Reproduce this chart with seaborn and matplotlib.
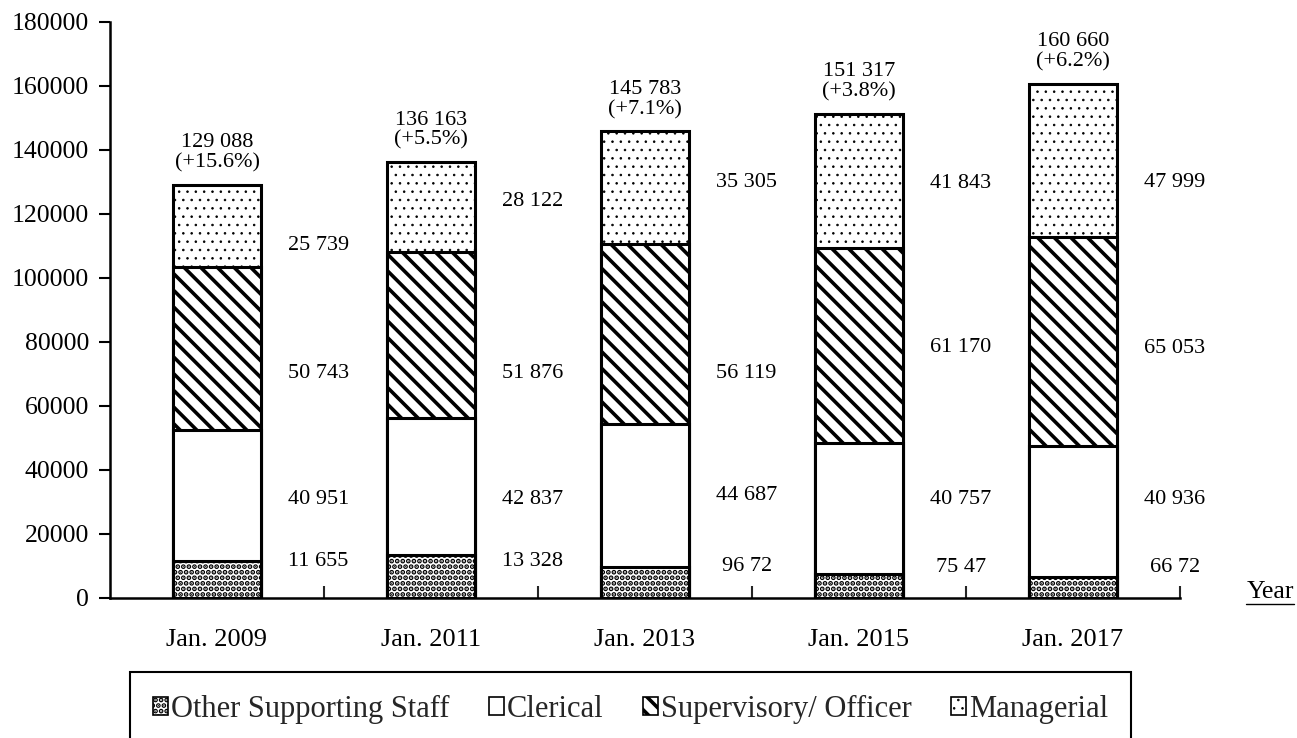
import matplotlib
matplotlib.use("Agg")
import matplotlib.pyplot as plt
import matplotlib.patches as mpatches
from matplotlib.lines import Line2D
import seaborn as sns
import pandas as pd
import numpy as np

# ---------------- data ----------------
years = ["Jan. 2009", "Jan. 2011", "Jan. 2013", "Jan. 2015", "Jan. 2017"]
series_names = ["Other Supporting Staff", "Clerical", "Supervisory/ Officer", "Managerial"]
other = [11655, 13328, 9672, 7547, 6672]
clerical = [40951, 42837, 44687, 40757, 40936]
supervisory = [50743, 51876, 56119, 61170, 65053]
managerial = [25739, 28122, 35305, 41843, 47999]
totals = [129088, 136163, 145783, 151317, 160660]
total_labels = ["129 088\n(+15.6%)", "136 163\n(+5.5%)", "145 783\n(+7.1%)",
                "151 317\n(+3.8%)", "160 660\n(+6.2%)"]
other_labels = ["11 655", "13 328", "96 72", "75 47", "66 72"]
clerical_labels = ["40 951", "42 837", "44 687", "40 757", "40 936"]
supervisory_labels = ["50 743", "51 876", "56 119", "61 170", "65 053"]
managerial_labels = ["25 739", "28 122", "35 305", "41 843", "47 999"]
y_ticks = [0, 20000, 40000, 60000, 80000, 100000, 120000, 140000, 160000, 180000]

# label anchor heights (data units)
other_label_y = [11300, 11300, 9800, 9500, 9500]
clerical_label_y = [30800, 30800, 32000, 30800, 30800]
supervisory_label_y = [70000, 70000, 70000, 78200, 78000]
managerial_label_y = [110300, 123800, 129800, 129500, 129800]

# ---------------- style ----------------
sns.set_style("ticks")
plt.rcParams["font.family"] = ["Liberation Serif", "DejaVu Serif"]
plt.rcParams["hatch.color"] = "black"
plt.rcParams["axes.edgecolor"] = "black"
plt.rcParams["hatch.linewidth"] = 1.0


def with_hatch_lw(artist, lw):
    """Make an artist draw its hatch with a given line width."""
    if hasattr(artist, "set_hatch_linewidth"):
        artist.set_hatch_linewidth(lw)
    orig = artist.draw

    def draw(renderer, _orig=orig, _lw=lw):
        with plt.rc_context({"hatch.linewidth": _lw}):
            return _orig(renderer)
    artist.draw = draw


fig = plt.figure(figsize=(12.97, 7.38), dpi=100)
ax = fig.add_axes([110 / 1297, 1 - 598 / 738, (1180 - 110) / 1297, (598 - 22) / 738])

layers = [other, clerical, supervisory, managerial]
hatches = ["...", "", "\\\\", ".."]
hatch_lws = [2.5, 1.0, 2.6, 0.6]
cum = np.cumsum(np.array(layers), axis=0)

# draw from the top layer down so lower layers overlay
for i in range(3, -1, -1):
    df = pd.DataFrame({"year": years, "value": cum[i]})
    n_before = len(ax.patches)
    sns.barplot(data=df, x="year", y="value", order=years, color="white",
                saturation=1, width=0.41, edgecolor="black", linewidth=2.2,
                ax=ax, zorder=2 + (3 - i))
    for p in ax.patches[n_before:]:
        p.set_facecolor("white")
        p.set_hatch(hatches[i])
        with_hatch_lw(p, hatch_lws[i])

ax.set_xlim(-0.5, 4.5)
ax.set_ylim(0, 180000)
ax.set_xlabel("")
ax.set_ylabel("")

# y axis
ax.set_yticks(y_ticks)
ax.set_yticklabels([str(v) for v in y_ticks])
ax.tick_params(axis="y", direction="out", length=8, width=1.5, pad=7,
               labelsize=18.5, colors="black")

# x axis: boundary ticks pointing up, category labels as minor ticks
ax.set_xticks([0.5, 1.5, 2.5, 3.5, 4.5])
ax.set_xticklabels([])
ax.set_xticks(range(len(years)), minor=True)
ax.set_xticklabels(years, minor=True)
ax.tick_params(axis="x", which="major", direction="in", length=9, width=1.5)
ax.tick_params(axis="x", which="minor", length=0, pad=22, labelsize=19,
               colors="black")

for s in ["top", "right"]:
    ax.spines[s].set_visible(False)
for s in ["left", "bottom"]:
    ax.spines[s].set_linewidth(1.8)
    ax.spines[s].set_color("black")
ax.grid(False)

# segment value labels
label_sets = [(other_labels, other_label_y), (clerical_labels, clerical_label_y),
              (supervisory_labels, supervisory_label_y),
              (managerial_labels, managerial_label_y)]
for labels, ys in label_sets:
    for j, (t, yv) in enumerate(zip(labels, ys)):
        ax.text(j + 0.475, yv, t, ha="center", va="center", fontsize=16,
                color="black")

# totals
for j, (tot, t) in enumerate(zip(totals, total_labels)):
    ax.annotate(t, xy=(j, tot), xytext=(0, 9), textcoords="offset points",
                ha="center", va="bottom", fontsize=16, linespacing=1.05,
                color="black")

# "Year" label with underline
ytxt = fig.text(1270 / 1297, 1 - 592 / 738, "Year", ha="center", va="center",
                fontsize=18.5, color="black")

# legend
handles = []
for i in range(4):
    h = mpatches.Patch(facecolor="white", edgecolor="black", hatch=hatches[i],
                       linewidth=1.2)
    handles.append(h)
leg = fig.legend(handles, series_names, loc="upper left",
                 bbox_to_anchor=(130 / 1297, 1 - 672 / 738),
                 bbox_transform=fig.transFigure, ncol=4, frameon=True,
                 fancybox=False, edgecolor="black", framealpha=1,
                 borderpad=0.75, handlelength=0.5, handleheight=0.5,
                 handletextpad=0.08, columnspacing=1.3, borderaxespad=0,
                 prop={"size": 22, "family": ["Liberation Serif"]})
leg.get_frame().set_linewidth(1.5)
for lh, lw in zip(leg.legend_handles, hatch_lws):
    with_hatch_lw(lh, lw)

fig.canvas.draw()
bb = ytxt.get_window_extent(fig.canvas.get_renderer())
fig.add_artist(Line2D([bb.x0 / fig.bbox.width, bb.x1 / fig.bbox.width],
                      [(bb.y0 - 1) / fig.bbox.height] * 2,
                      transform=fig.transFigure, color="black", linewidth=1.0))

fig.savefig("out.png", dpi=100)
